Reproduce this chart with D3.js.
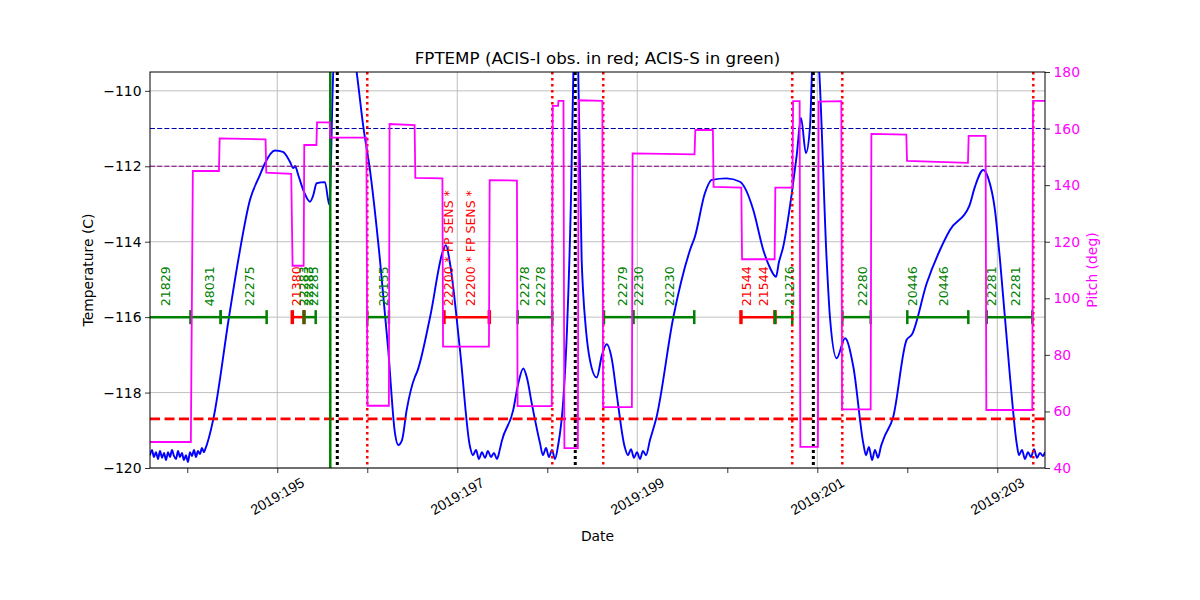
<!DOCTYPE html>
<html><head><meta charset="utf-8">
<script src="https://cdn.jsdelivr.net/npm/d3@7"></script>
<style>
body{margin:0;background:#fff;}
svg{font-family:"DejaVu Sans",sans-serif;}
</style></head>
<body><svg id="c" width="1200" height="600"></svg>
<script>
// ---- data (day of year 2019, values) ----
const xMajorTicks = [195, 197, 199, 201, 203];
const xMinorTicks = [194, 196, 198, 200, 202];
const xTickLabels = ["2019:195", "2019:197", "2019:199", "2019:201", "2019:203"];
const tempTicks = [-120, -118, -116, -114, -112, -110];
const pitchTicks = [40, 60, 80, 100, 120, 140, 160, 180];

// FPTEMP (deg C)
const tempSeries = [
[193.586,-119.66],[193.608,-119.52],[193.63,-119.71],[193.652,-119.58],[193.675,-119.76],[193.697,-119.55],
[193.72,-119.73],[193.742,-119.60],[193.764,-119.79],[193.786,-119.58],[193.808,-119.71],[193.83,-119.52],
[193.852,-119.68],[193.875,-119.76],[193.897,-119.55],[193.919,-119.71],[193.941,-119.60],[193.963,-119.79],
[193.985,-119.66],[194.008,-119.84],[194.03,-119.58],[194.052,-119.68],[194.075,-119.52],[194.097,-119.71],
[194.119,-119.55],[194.141,-119.63],[194.163,-119.47],[194.186,-119.58],[194.197,-119.52],
[194.289,-118.71],[194.463,-116.01],[194.567,-114.48],[194.697,-112.89],[194.808,-112.23],[194.863,-111.92],
[194.974,-111.58],[195.063,-111.62],[195.141,-111.88],[195.178,-112.05],[195.197,-111.99],[195.233,-112.23],
[195.297,-112.68],[195.363,-112.94],[195.397,-112.79],[195.438,-112.45],[195.53,-112.42],[195.578,-113.02],
[195.622,-109.5],[195.697,-107.5],[195.808,-108.3],[195.882,-109.5],[195.956,-110.95],[196.03,-112.10],
[196.141,-114.48],[196.233,-116.87],[196.308,-119.08],[196.344,-119.39],[196.386,-119.26],[196.438,-118.46],
[196.53,-117.58],[196.549,-117.48],[196.697,-116.01],[196.844,-114.22],[196.874,-114.09],[196.919,-114.57],
[197.03,-116.87],[197.141,-119.43],
[197.174,-119.66],[197.208,-119.52],[197.241,-119.76],[197.274,-119.58],[197.308,-119.73],[197.341,-119.55],
[197.374,-119.71],[197.408,-119.60],[197.441,-119.76],[197.474,-119.50],
[197.493,-119.30],[197.622,-118.46],[197.674,-117.80],[197.733,-117.36],[197.774,-117.61],[197.827,-118.28],
[197.919,-119.34],
[197.952,-119.66],[197.986,-119.47],[198.019,-119.71],[198.052,-119.52],[198.086,-119.76],[198.119,-119.42],
[198.178,-118.20],[198.219,-116.34],[198.263,-112.89],[198.29,-109.5],[198.318,-108.0],[198.344,-109.5],
[198.382,-114.48],[198.397,-115.28],[198.43,-116.34],[198.474,-117.14],[198.549,-117.60],[198.608,-117.0],
[198.66,-116.72],[198.719,-117.14],[198.77,-118.02],[198.859,-119.43],
[198.897,-119.66],[198.93,-119.50],[198.963,-119.73],[198.997,-119.58],[199.03,-119.76],[199.063,-119.55],
[199.097,-119.66],
[199.141,-119.26],[199.215,-118.64],[199.4,-116.01],[199.586,-114.22],[199.641,-113.86],[199.752,-112.71],
[199.827,-112.36],[199.993,-112.32],[200.141,-112.41],[200.197,-112.58],[200.289,-113.16],[200.4,-114.22],
[200.474,-114.69],[200.541,-114.93],[200.574,-114.54],[200.619,-114.16],[200.717,-112.71],[200.772,-111.70],
[200.819,-110.72],[200.874,-111.65],[200.919,-110.95],[200.941,-109.5],[200.97,-108.0],[201.022,-109.5],
[201.104,-114.48],[201.141,-116.01],[201.215,-117.09],[201.308,-116.56],[201.4,-117.31],[201.511,-119.34],
[201.541,-119.66],[201.574,-119.44],[201.608,-119.79],[201.641,-119.52],[201.674,-119.73],[201.708,-119.42],
[201.741,-119.20],[201.844,-118.64],[201.993,-116.60],[202.049,-116.47],[202.216,-115.10],[202.363,-114.22],
[202.474,-113.69],[202.689,-113.05],[202.752,-112.54],[202.844,-112.10],[202.9,-112.32],[202.974,-113.16],
[203.03,-114.48],[203.141,-117.58],[203.215,-119.34],
[203.241,-119.66],[203.274,-119.52],[203.308,-119.76],[203.341,-119.58],[203.374,-119.71],[203.408,-119.50],
[203.441,-119.73],[203.474,-119.60],[203.508,-119.68],[203.53,-119.58]
];

// Pitch (deg)
const pitchSeries = [
[193.586,49.2],[194.040,49.2],[194.062,145.0],[194.352,145.0],[194.360,156.5],[194.870,156.2],[194.878,144.4],
[195.155,144.0],[195.170,111.5],[195.293,111.5],[195.300,154.2],[195.435,154.2],[195.442,162.2],[195.582,162.2],
[195.590,156.8],[195.990,156.8],[196.002,62.0],[196.240,62.0],[196.248,161.6],[196.526,161.2],[196.534,142.6],
[196.835,142.4],[196.842,82.9],[197.352,82.9],[197.360,141.8],[197.663,141.6],[197.670,61.9],[198.050,61.9],
[198.060,168.0],[198.120,168.0],[198.124,169.8],[198.180,169.8],[198.190,47.0],[198.340,47.0],[198.348,170.0],
[198.612,169.8],[198.620,61.5],[198.940,61.5],[198.948,151.2],[199.636,150.9],[199.645,159.5],[199.840,159.5],
[199.848,139.4],[200.156,139.1],[200.164,113.8],[200.526,113.8],[200.534,139.1],[200.723,139.1],[200.731,169.7],
[200.804,169.7],[200.812,47.5],[201.007,47.5],[201.015,169.5],[201.267,169.7],[201.275,60.7],[201.593,60.7],
[201.601,158.1],[201.989,157.9],[201.997,148.6],[202.674,147.9],[202.682,157.4],[202.870,157.4],[202.878,60.5],
[203.389,60.5],[203.397,169.8],[203.53,169.8]
];

// reference limits (deg C)
const limitBlue = -111.0;
const limitPurple = -112.0;
const limitRed = -118.7;

// observation intervals (ACIS-I red, ACIS-S green)
const obsStart = [193.40, 194.038, 194.371, 195.167, 195.297, 196.0, 196.852, 197.671, 198.630, 198.956, 200.152, 200.530, 201.278, 202.0, 202.882];
const obsEnd   = [194.038, 194.371, 194.882, 195.297, 195.427, 196.241, 197.356, 198.056, 198.956, 199.633, 200.530, 200.722, 201.593, 202.678, 203.389];
const obsInst  = ["S","S","S","I","S","S","I","S","S","S","I","S","S","S","S"];
const obsLevel = -116.0;

// observation labels
const labelDay  = [193.754, 194.244, 194.686, 195.210, 195.289, 195.345, 195.400, 196.178, 196.90, 197.149, 197.744, 197.927, 198.838, 199.019, 199.356, 200.216, 200.400, 200.686, 201.500, 202.056, 202.400, 202.938, 203.197];
const labelText = ["21829","48031","22275","21380","22283","22283","22285","20155","22200 * FP SENS *","22200 * FP SENS *","22278","22278","22279","22230","22230","21544","21544","21276","22280","20446","20446","22281","22281"];
const labelInst = ["S","S","S","I","S","S","S","S","I","I","S","S","S","S","S","I","I","S","S","S","S","S","S"];

// vertical event lines
const redDotted = [196.0, 198.056, 198.622, 200.722, 201.278, 203.40];
const blackDotted = [195.667, 198.311, 200.956];
const greenSolid = [195.589];

// ---- drawing ----
const W = 1200, H = 600;
const m = {l:150, r:155, t:72, b:132};
const pw = W - m.l - m.r, ph = H - m.t - m.b;
const svg = d3.select("#c");
const g = svg.append("g").attr("transform", `translate(${m.l},${m.t})`);

const x = d3.scaleLinear().domain([193.586, 203.53]).range([0, pw]);
const yT = d3.scaleLinear().domain([-120, -109.5]).range([ph, 0]);
const yP = d3.scaleLinear().domain([40, 180]).range([ph, 0]);
const instColor = {I:"#ff0000", S:"#008000"};

svg.append("defs").append("clipPath").attr("id","clip")
  .append("rect").attr("width", pw).attr("height", ph);

// grid
g.append("g").selectAll("line").data(tempTicks).join("line")
  .attr("x1",0).attr("x2",pw).attr("y1",d=>yT(d)).attr("y2",d=>yT(d))
  .attr("stroke","#b0b0b0").attr("stroke-width",0.8);
g.append("g").selectAll("line").data(xMajorTicks).join("line")
  .attr("x1",d=>x(d)).attr("x2",d=>x(d)).attr("y1",0).attr("y2",ph)
  .attr("stroke","#b0b0b0").attr("stroke-width",0.8);

const plot = g.append("g").attr("clip-path","url(#clip)");

// temperature curve
plot.append("path").datum(tempSeries)
  .attr("d", d3.line().x(d=>x(d[0])).y(d=>yT(d[1])).curve(d3.curveMonotoneX))
  .attr("fill","none").attr("stroke","#0000ff").attr("stroke-width",1.9);

// limit lines
plot.append("line").attr("x1",0).attr("x2",pw).attr("y1",yT(limitBlue)).attr("y2",yT(limitBlue))
  .attr("stroke","#0000aa").attr("stroke-width",1.1).attr("stroke-dasharray","5,2.2");
plot.append("line").attr("x1",0).attr("x2",pw).attr("y1",yT(limitPurple)).attr("y2",yT(limitPurple))
  .attr("stroke","#800080").attr("stroke-width",1.1).attr("stroke-dasharray","5,2.2");
plot.append("line").attr("x1",0).attr("x2",pw).attr("y1",yT(limitRed)).attr("y2",yT(limitRed))
  .attr("stroke","#ff0000").attr("stroke-width",2.8).attr("stroke-dasharray","10,4.5");

// observation bars
const obs = obsStart.map((s,i)=>({s, e:obsEnd[i], c:instColor[obsInst[i]]}));
const og = plot.append("g");
og.selectAll("line.bar").data(obs).join("line").attr("class","bar")
  .attr("x1",d=>x(d.s)).attr("x2",d=>x(d.e)).attr("y1",yT(obsLevel)).attr("y2",yT(obsLevel))
  .attr("stroke",d=>d.c).attr("stroke-width",2.5);
const ticksObs = [];
obs.forEach(d=>{ticksObs.push({v:d.s,c:d.c,w:d.c==="#ff0000"?3.5:2.5}); ticksObs.push({v:d.e,c:d.c,w:d.c==="#ff0000"?3.5:2.5});});
og.selectAll("line.tk").data(ticksObs).join("line").attr("class","tk")
  .attr("x1",d=>x(d.v)).attr("x2",d=>x(d.v)).attr("y1",yT(obsLevel)-7).attr("y2",yT(obsLevel)+7)
  .attr("stroke",d=>d.c).attr("stroke-width",d=>d.w);

// labels
g.append("g").selectAll("text").data(labelDay).join("text")
  .attr("transform",(d)=>`translate(${x(d)},${yT(obsLevel)-11}) rotate(-90)`)
  .attr("dominant-baseline","central")
  .attr("font-size","12.5px")
  .attr("fill",(d,i)=>instColor[labelInst[i]])
  .text((d,i)=>labelText[i]);

// vertical lines
plot.append("g").selectAll("line").data(greenSolid).join("line")
  .attr("x1",d=>x(d)).attr("x2",d=>x(d)).attr("y1",0).attr("y2",ph)
  .attr("stroke","#008000").attr("stroke-width",2.5);
plot.append("g").selectAll("line").data(redDotted).join("line")
  .attr("x1",d=>x(d)).attr("x2",d=>x(d)).attr("y1",0).attr("y2",ph)
  .attr("stroke","#ff0000").attr("stroke-width",2.5).attr("stroke-dasharray","2.5,3.5");
plot.append("g").selectAll("line").data(blackDotted).join("line")
  .attr("x1",d=>x(d)).attr("x2",d=>x(d)).attr("y1",0).attr("y2",ph)
  .attr("stroke","#000").attr("stroke-width",3).attr("stroke-dasharray","3,3");

// pitch curve (twin axis, on top)
plot.append("path").datum(pitchSeries)
  .attr("d", d3.line().x(d=>x(d[0])).y(d=>yP(d[1])))
  .attr("fill","none").attr("stroke","#ff00ff").attr("stroke-width",1.8);

// axes
const fs = "13.9px";
const xAxis = g.append("g").attr("transform",`translate(0,${ph})`);
xAxis.call(d3.axisBottom(x).tickValues(xMajorTicks.concat(xMinorTicks)).tickSize(5).tickFormat(""))
  .call(a=>a.select(".domain").remove());
xAxis.selectAll("line").attr("stroke","#000").attr("stroke-width",0.8);
xAxis.selectAll("text.lab").data(xMajorTicks).join("text").attr("class","lab")
  .attr("transform",d=>`translate(${x(d)},28) rotate(-30)`)
  .attr("text-anchor","middle").attr("dominant-baseline","central")
  .attr("font-size","14.2px").attr("fill","#000")
  .text((d,i)=>xTickLabels[i]);

const yAxisL = g.append("g");
yAxisL.call(d3.axisLeft(yT).tickValues(tempTicks).tickSize(5).tickFormat(d=>"\u2212"+Math.abs(d)))
  .call(a=>a.select(".domain").remove());
yAxisL.selectAll("line").attr("stroke","#000").attr("stroke-width",0.8);
yAxisL.selectAll("text").attr("font-size",fs).attr("font-family","DejaVu Sans").attr("fill","#000").attr("x",-8.5);

const yAxisR = g.append("g").attr("transform",`translate(${pw},0)`);
yAxisR.call(d3.axisRight(yP).tickValues(pitchTicks).tickSize(5))
  .call(a=>a.select(".domain").remove());
yAxisR.selectAll("line").attr("stroke","#000").attr("stroke-width",0.8);
yAxisR.selectAll("text").attr("font-size",fs).attr("font-family","DejaVu Sans").attr("fill","#ff00ff").attr("x",8.5);

// frame
g.append("rect").attr("width",pw).attr("height",ph).attr("fill","none").attr("stroke","#000").attr("stroke-width",1);

// titles
svg.append("text").attr("x",m.l+pw/2).attr("y",64).attr("text-anchor","middle")
  .attr("font-size","16.7px").attr("fill","#000").text("FPTEMP (ACIS-I obs. in red; ACIS-S in green)");
svg.append("text").attr("x",m.l+pw/2).attr("y",541).attr("text-anchor","middle")
  .attr("font-size",fs).attr("fill","#000").text("Date");
svg.append("text").attr("transform",`translate(93,${m.t+ph/2}) rotate(-90)`).attr("text-anchor","middle")
  .attr("font-size",fs).attr("fill","#000").text("Temperature (C)");
svg.append("text").attr("transform",`translate(1097,${m.t+ph/2}) rotate(-90)`).attr("text-anchor","middle")
  .attr("font-size",fs).attr("fill","#ff00ff").text("Pitch (deg)");
</script></body></html>
